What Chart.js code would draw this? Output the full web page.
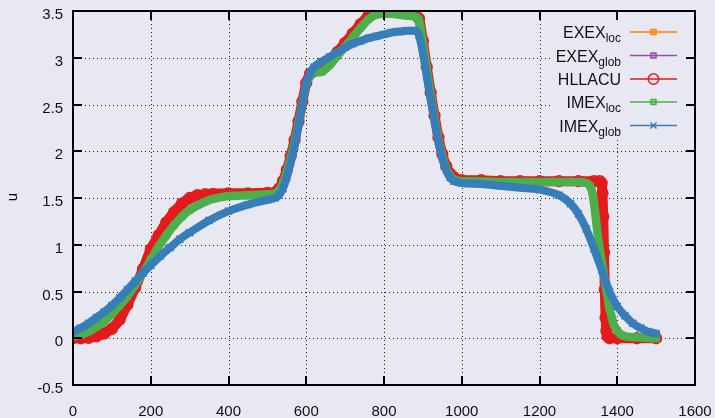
<!DOCTYPE html>
<html><head><meta charset="utf-8">
<script src="https://cdn.jsdelivr.net/npm/chart.js@4"></script>
<style>html,body{margin:0;padding:0;background:#e8e8f2;}#wrap{width:715px;height:418px;}</style>
</head><body><div id="wrap"><canvas id="c" width="715" height="418"></canvas></div>
<script>
// ---- data ----
const xTickValues = [0,200,400,600,800,1000,1200,1400,1600];
const xTickLabels = ['0','200','400','600','800','1000','1200','1400','1600'];
const yTickValues = [-0.5,0,0.5,1,1.5,2,2.5,3,3.5];
const yTickLabels = ['-0.5','0','0.5','1','1.5','2','2.5','3','3.5'];

const seriesNames = ['EXEX','EXEX','HLLACU','IMEX','IMEX'];
const seriesSubs  = ['loc','glob','','loc','glob'];

const exexLocX = [0,40,80,120,160,200,240,280,320,360,450,520,540,560,580,600,620,660,700,740,780,820,860,880,890,900,920,940,960,980,1000,1100,1200,1300,1355,1360,1362,1364,1366,1368,1370,1373,1378,1400,1500];
const exexLocU = [0,0.005,0.05,0.2,0.54,0.95,1.24,1.44,1.53,1.545,1.55,1.56,1.68,1.95,2.32,2.73,2.86,2.96,3.16,3.36,3.5,3.5,3.48,3.46,3.42,3.18,2.63,2.15,1.84,1.72,1.69,1.68,1.68,1.68,1.68,1.66,1.5,1.24,0.85,0.53,0.25,0.08,0.01,0,0];

const exexGlobX = [0,40,80,120,160,200,240,280,320,360,450,520,540,560,580,600,620,660,700,740,780,820,860,880,890,900,920,940,960,980,1000,1100,1200,1300,1350,1358,1362,1364,1366,1368,1370,1373,1376,1380,1390,1400,1500];
const exexGlobU = [0.01,0.03,0.1,0.26,0.55,0.9,1.18,1.38,1.48,1.52,1.54,1.55,1.67,1.94,2.31,2.72,2.85,2.94,3.14,3.34,3.47,3.48,3.47,3.45,3.41,3.17,2.62,2.14,1.83,1.71,1.68,1.68,1.68,1.68,1.68,1.65,1.4,1.1,0.8,0.6,0.38,0.2,0.12,0.05,0.01,0,0];

const hllacuX = [0,20,40,60,80,100,120,140,160,180,200,220,240,260,280,300,320,340,360,400,450,500,520,530,540,550,560,570,580,590,600,610,620,640,660,680,700,720,740,760,780,800,820,840,860,880,890,900,910,920,930,940,950,960,970,980,1000,1050,1100,1150,1200,1250,1300,1340,1355,1360,1362,1364,1366,1368,1370,1372,1375,1380,1400,1450,1500];
const hllacuU = [0,0,0.005,0.02,0.05,0.1,0.2,0.36,0.54,0.74,0.95,1.1,1.24,1.35,1.44,1.5,1.53,1.54,1.545,1.55,1.55,1.555,1.56,1.6,1.68,1.8,1.95,2.12,2.32,2.53,2.73,2.83,2.86,2.88,2.96,3.06,3.16,3.26,3.36,3.45,3.5,3.51,3.5,3.49,3.48,3.46,3.42,3.18,2.9,2.63,2.38,2.15,1.97,1.84,1.76,1.72,1.69,1.69,1.68,1.68,1.68,1.68,1.68,1.68,1.68,1.66,1.55,1.3,0.92,0.52,0.22,0.08,0.02,0,0,0,0];

const imexLocX = [0,20,40,60,80,100,120,140,160,180,200,220,240,260,280,300,320,340,360,400,450,500,520,530,540,550,560,570,580,590,600,610,620,640,660,680,700,720,740,760,780,800,820,840,860,880,890,900,910,920,930,940,950,960,970,980,1000,1050,1100,1150,1200,1250,1300,1320,1330,1335,1340,1345,1350,1355,1360,1365,1370,1375,1380,1385,1390,1400,1410,1420,1450,1500];
const imexLocU = [0.02,0.04,0.07,0.12,0.18,0.26,0.35,0.45,0.57,0.7,0.84,0.98,1.1,1.21,1.3,1.37,1.42,1.46,1.49,1.52,1.53,1.54,1.55,1.58,1.66,1.78,1.93,2.1,2.3,2.51,2.71,2.81,2.84,2.85,2.92,3.02,3.12,3.22,3.32,3.41,3.46,3.47,3.47,3.46,3.45,3.44,3.4,3.16,2.88,2.61,2.36,2.13,1.95,1.82,1.74,1.7,1.68,1.68,1.67,1.67,1.67,1.67,1.67,1.66,1.63,1.57,1.45,1.28,1.1,0.95,0.82,0.7,0.56,0.44,0.32,0.24,0.16,0.08,0.04,0.02,0.01,0];

const imexGlobX = [0,20,40,60,80,100,120,140,160,180,200,225,250,275,300,350,400,450,500,520,530,540,550,560,570,580,590,600,610,620,640,660,680,700,720,740,760,780,800,820,840,860,880,890,900,910,920,930,940,950,960,970,980,1000,1050,1100,1150,1200,1250,1280,1300,1320,1340,1360,1380,1400,1420,1440,1460,1480,1500];
const imexGlobU = [0.07,0.11,0.16,0.22,0.28,0.35,0.43,0.52,0.61,0.7,0.78,0.88,0.97,1.06,1.13,1.26,1.36,1.43,1.48,1.5,1.53,1.6,1.72,1.88,2.05,2.27,2.5,2.72,2.84,2.9,2.96,3.01,3.06,3.11,3.15,3.18,3.21,3.23,3.25,3.27,3.28,3.29,3.29,3.24,3.05,2.8,2.56,2.32,2.1,1.92,1.8,1.72,1.68,1.66,1.65,1.63,1.61,1.59,1.53,1.44,1.33,1.17,0.96,0.73,0.5,0.34,0.24,0.16,0.11,0.07,0.05];

// ---- styling ----
const BG = '#e8e8f2';
const FONT = '"Liberation Sans", Arial, sans-serif';
const colors = ['#ff7f00','#984ea3','#e41a1c','#4daf4a','#377eb8'];
const pts = (xs, us) => xs.map((x, i) => ({x: x, y: us[i]}));

const datasets = [
  {label:'EXEX_loc', data: pts(exexLocX, exexLocU), borderColor: colors[0], borderWidth: 2,
   pointStyle:'rect', pointRadius:3, pointBorderWidth:1.3, pointBorderColor: colors[0], pointBackgroundColor:'rgba(255,127,0,0.35)', order:5},
  {label:'EXEX_glob', data: pts(exexGlobX, exexGlobU), borderColor: colors[1], borderWidth: 2,
   pointStyle:'rect', pointRadius:3, pointBorderWidth:1.3, pointBorderColor: colors[1], pointBackgroundColor:'rgba(152,78,163,0.35)', order:4},
  {label:'HLLACU', data: pts(hllacuX, hllacuU), borderColor: colors[2], borderWidth: 10,
   pointStyle:'circle', pointRadius:5.4, pointBorderWidth:1.5, pointBorderColor: colors[2], pointBackgroundColor:'rgba(0,0,0,0)', order:3},
  {label:'IMEX_loc', data: pts(imexLocX, imexLocU), borderColor: colors[3], borderWidth: 8.5,
   pointStyle:'rect', pointRadius:4.2, pointBorderWidth:1.3, pointBorderColor: colors[3], pointBackgroundColor: colors[3], order:2},
  {label:'IMEX_glob', data: pts(imexGlobX, imexGlobU), borderColor: colors[4], borderWidth: 8,
   pointStyle:'crossRot', pointRadius:5, pointBorderWidth:1.6, pointBorderColor: colors[4], order:1}
];
datasets.forEach(d => { d.showLine = true; d.cubicInterpolationMode = 'monotone'; d.borderCapStyle = 'round'; d.borderJoinStyle = 'round'; d.fill = false; });

const decor = {
  id: 'decor',
  beforeDraw(chart) {
    const ctx = chart.ctx;
    ctx.save(); ctx.fillStyle = BG; ctx.fillRect(0, 0, chart.width, chart.height); ctx.restore();
  },
  beforeDatasetsDraw(chart) {
    const {ctx, chartArea: a, scales: {x, y}} = chart;
    ctx.save();
    ctx.strokeStyle = '#222'; ctx.lineWidth = 1; ctx.setLineDash([1, 3]);
    x.ticks.forEach(t => {
      if (t.value <= x.min || t.value >= x.max) return;
      const px = Math.round(x.getPixelForValue(t.value)) + 0.5;
      ctx.beginPath(); ctx.moveTo(px, a.bottom); ctx.lineTo(px, a.top); ctx.stroke();
    });
    y.ticks.forEach(t => {
      if (t.value <= y.min || t.value >= y.max) return;
      const py = Math.round(y.getPixelForValue(t.value)) + 0.5;
      ctx.beginPath(); ctx.moveTo(a.left, py); ctx.lineTo(a.right, py); ctx.stroke();
    });
    ctx.setLineDash([]);
    ctx.fillStyle = BG;
    ctx.fillRect(552, a.top + 1, a.right - 553, 137 - a.top);
    ctx.restore();
  },
  afterDatasetsDraw(chart) {
    const {ctx, chartArea: a, scales: {x, y}} = chart;
    ctx.save();
    ctx.strokeStyle = '#000'; ctx.lineWidth = 2;
    const L = 9;
    x.ticks.forEach(t => {
      const px = Math.round(x.getPixelForValue(t.value));
      ctx.beginPath(); ctx.moveTo(px, a.bottom); ctx.lineTo(px, a.bottom - L); ctx.stroke();
      ctx.beginPath(); ctx.moveTo(px, a.top); ctx.lineTo(px, a.top + L); ctx.stroke();
    });
    y.ticks.forEach(t => {
      const py = Math.round(y.getPixelForValue(t.value));
      ctx.beginPath(); ctx.moveTo(a.left, py); ctx.lineTo(a.left + L, py); ctx.stroke();
      ctx.beginPath(); ctx.moveTo(a.right, py); ctx.lineTo(a.right - L, py); ctx.stroke();
    });
    ctx.strokeRect(a.left, a.top, a.right - a.left, a.bottom - a.top);
    ctx.restore();
  },
  afterDraw(chart) {
    const ctx = chart.ctx;
    ctx.save();
    ctx.fillStyle = '#000';
    ctx.font = '15px ' + FONT;
    ctx.translate(13, 197); ctx.rotate(-Math.PI / 2);
    ctx.textAlign = 'center'; ctx.textBaseline = 'middle';
    ctx.fillText('u', 0, 0);
    ctx.restore();

    ctx.save();
    const rows = [32, 55.5, 79, 102, 125.5];
    const rightX = 621, x0 = 630, x1 = 677, xm = 653.5;
    seriesNames.forEach((name, i) => {
      const cy = rows[i];
      ctx.font = '16px ' + FONT;
      const wMain = ctx.measureText(name).width;
      ctx.font = '12px ' + FONT;
      const wSub = seriesSubs[i] ? ctx.measureText(seriesSubs[i]).width : 0;
      const sx = rightX - wMain - wSub;
      ctx.fillStyle = '#111';
      ctx.textAlign = 'left'; ctx.textBaseline = 'alphabetic';
      ctx.font = '16px ' + FONT;
      ctx.fillText(name, sx, cy + 6);
      if (seriesSubs[i]) { ctx.font = '12px ' + FONT; ctx.fillText(seriesSubs[i], sx + wMain, cy + 10); }
      ctx.strokeStyle = colors[i]; ctx.lineWidth = 1.6;
      ctx.beginPath(); ctx.moveTo(x0, cy); ctx.lineTo(x1, cy); ctx.stroke();
      ctx.lineWidth = 1.5;
      if (i === 0 || i === 1 || i === 3) {
        ctx.fillStyle = i === 0 ? 'rgba(255,127,0,0.35)' : (i === 1 ? 'rgba(152,78,163,0.35)' : 'rgba(77,175,74,0.45)');
        ctx.fillRect(xm - 2.5, cy - 2.5, 5, 5);
        ctx.strokeRect(xm - 2.5, cy - 2.5, 5, 5);
      } else if (i === 2) {
        ctx.beginPath(); ctx.arc(xm, cy, 5.2, 0, Math.PI * 2); ctx.stroke();
      } else {
        ctx.beginPath();
        ctx.moveTo(xm - 3, cy - 3); ctx.lineTo(xm + 3, cy + 3);
        ctx.moveTo(xm - 3, cy + 3); ctx.lineTo(xm + 3, cy - 3);
        ctx.stroke();
      }
    });
    ctx.restore();
  }
};

new Chart(document.getElementById('c'), {
  type: 'scatter',
  data: { datasets: datasets },
  options: {
    responsive: false,
    animation: false,
    devicePixelRatio: 1,
    layout: { padding: { left: 0, right: 20, top: 11, bottom: 0 } },
    plugins: { legend: { display: false }, tooltip: { enabled: false } },
    elements: { line: { tension: 0 } },
    scales: {
      x: {
        type: 'linear', min: 0, max: 1600,
        afterBuildTicks: s => { s.ticks = xTickValues.map(v => ({value: v})); },
        afterFit: s => { s.height = 33; s.paddingLeft = 0; s.paddingRight = 0; s.paddingTop = 0; s.paddingBottom = 0; },
        grid: { display: false, drawTicks: false },
        border: { display: false },
        ticks: { autoSkip: false, maxRotation: 0, padding: 18, color: '#111',
                 font: { size: 15, family: FONT },
                 callback: (v, i) => xTickLabels[i] }
      },
      y: {
        type: 'linear', min: -0.5, max: 3.5,
        afterBuildTicks: s => { s.ticks = yTickValues.map(v => ({value: v})); },
        afterFit: s => { s.width = 73; s.paddingLeft = 0; s.paddingRight = 0; s.paddingTop = 0; s.paddingBottom = 0; },
        grid: { display: false, drawTicks: false },
        border: { display: false },
        ticks: { autoSkip: false, padding: 10, labelOffset: 4, color: '#111',
                 font: { size: 15, family: FONT },
                 callback: (v, i) => yTickLabels[i] }
      }
    }
  },
  plugins: [decor]
});
</script>
</body></html>
